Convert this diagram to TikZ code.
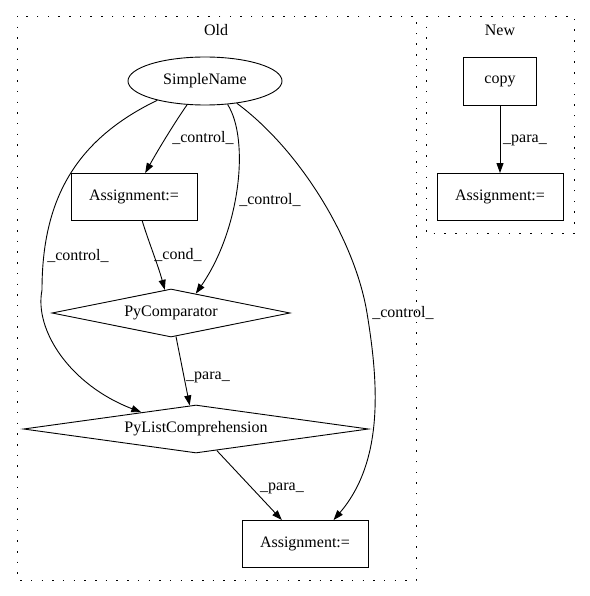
\documentclass[tikz,border=0pt]{standalone}
\usepackage{fontspec}
\setmainfont{Liberation Serif}
\usepackage{tikz}
\usetikzlibrary{shapes,arrows,positioning,calc,arrows.meta}

\begin{document}
\begin{tikzpicture}[x=1pt,y=-1pt, line width=0.9pt,
    font=\fontsize{16}{18}\selectfont,
    cluster/.style={draw, line width=0.9pt, dash pattern=on 1.5pt off 9.2pt},
    box/.style={draw, rectangle, minimum width=126pt, minimum height=47pt, inner sep=0pt},
    oval/.style={draw, ellipse, minimum width=154pt, minimum height=48pt, inner sep=0pt},
    diam/.style={draw, diamond, inner sep=0pt},
    edge/.style={-{Triangle[length=10pt,width=7pt]}},
    lbl/.style={inner sep=0pt}]
    \useasboundingbox (0,0) rectangle (589,596);
    % Clusters
    \draw[cluster] (17,16) rectangle (416,580);
    \node[lbl] (old) at (216,30) {Old};
    \draw[cluster] (426,16) rectangle (574,233);
    \node[lbl] (new) at (500,30) {New};
    % Old
    \node[oval] (sn) at (205,81) {SimpleName};
    \node[box] (a1) at (134,197) {Assignment:=};
    \node[diam, aspect=4.96, minimum width=238pt, minimum height=48pt] (pc) at (171,313) {PyComparator};
    \node[diam, aspect=7.2, minimum width=345pt, minimum height=48pt] (plc) at (196,429) {PyListComprehension};
    \node[box] (a3) at (305,544) {Assignment:=};
    % New
    \node[box, minimum width=73pt, minimum height=48pt] (cp) at (500,81) {copy};
    \node[box] (an) at (500,197) {Assignment:=};
    % Edges
    \draw[edge] (sn.-127) .. controls (175,122) and (158,150) .. (a1.65);
    \draw[edge] (sn.-46) .. controls (250,140) and (240,230) .. (pc.38);
    \draw[edge] (sn.-158) .. controls (75,140) and (42,200) .. (42,290)
        .. controls (34,330) and (70,385) .. (plc.163);
    \draw[edge] (sn.-35) .. controls (300,150) and (355,240) .. (367,313)
        .. controls (378,380) and (385,460) .. (a3.40);
    \draw[edge] (a1.-71) .. controls (148,240) and (158,265) .. (pc.105);
    \draw[edge] (pc.-78) -- (plc.105);
    \draw[edge] (plc.-46) -- (a3.134);
    \draw[edge] (cp) -- (an);
    % Labels
    \node[lbl] (l1) at (203,138) {\_control\_};
    \node[lbl] (l2) at (270,200) {\_control\_};
    \node[lbl] (l3) at (78,256) {\_control\_};
    \node[lbl] (l4) at (178,255) {\_cond\_};
    \node[lbl] (l5) at (403,313) {\_control\_};
    \node[lbl] (l6) at (208,377) {\_para\_};
    \node[lbl] (l7) at (282,488) {\_para\_};
    \node[lbl] (l8) at (525,140) {\_para\_};
\end{tikzpicture}
\end{document}
